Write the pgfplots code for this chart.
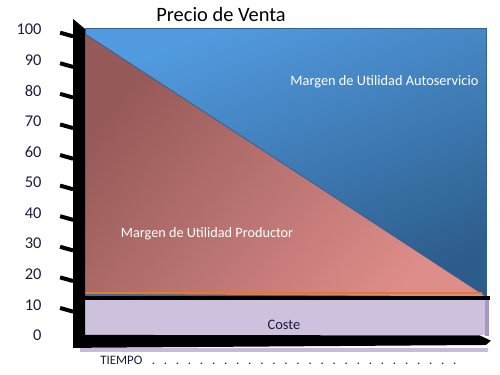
\documentclass[border=0pt]{standalone}
\usepackage{pgfplots}
\pgfplotsset{compat=1.18}
\usepackage{fontspec}
\setmainfont{Carlito}
\definecolor{blueTop}{HTML}{529BE0}
\definecolor{blueBot}{HTML}{2C5C8A}
\definecolor{blueEdge}{HTML}{34628F}
\definecolor{redTop}{HTML}{965A58}
\definecolor{redBot}{HTML}{DE8D8A}
\definecolor{coste}{HTML}{CDC1DD}
\definecolor{costeEdge}{HTML}{A797C4}
\definecolor{costeShadow}{HTML}{C9BADB}
\definecolor{orangeL}{HTML}{E8782A}
\definecolor{ticktext}{HTML}{1C1C3A}
\newcommand\dd{.\hspace{8.8bp}}
\begin{document}
\begin{tikzpicture}
\begin{axis}[
  scale only axis, width=500bp, height=375bp,
  xmin=0, xmax=500, ymin=-13.07, ymax=109.48,
  axis line style={draw=none},
  xtick=\empty, ytick={0,10,...,100},
  major tick length=0pt,
  yticklabel style={anchor=east, xshift=45bp, yshift=-0.5bp, font=\fontsize{16.5}{18}\selectfont, text=ticktext},
  /pgf/number format/assume math mode=true,
  clip=false,
]
% Blue region (Margen de Utilidad Autoservicio)
\addplot[draw=blueEdge, line width=1bp, shading=axis, top color=blueTop, bottom color=blueBot, shading angle=20]
  coordinates {(85,100) (487,100) (487,12) (85,12)} -- cycle;
% Red triangle (Margen de Utilidad Productor)
\addplot[draw=none, shading=axis, top color=redTop, bottom color=redBot, shading angle=50]
  coordinates {(85,98.4) (486,12.6) (85,13.4)} -- cycle;
\addplot[blueEdge, line width=0.8bp] coordinates {(85,98.4) (486,12.6)};
% Orange and black lines
\addplot[orangeL, line width=2bp] coordinates {(85,13.6) (482,13.6)};
\addplot[black, line width=4bp] coordinates {(85,12.1) (490,12.1)};
% Coste
\addplot[fill=coste, draw=none] coordinates {(85,11.4) (485,11.4) (485,0) (85,0)} -- cycle;
\addplot[fill=costeEdge, draw=none] coordinates {(485,11.4) (489,11.4) (489,-0.5) (485,-0.5)} -- cycle;
% Bottom shadow
\addplot[fill=costeShadow, draw=none] coordinates {(80,-4.2) (488,-4.2) (488,-5.6) (80,-5.6)} -- cycle;
% Bottom axis bar
\addplot[fill=black, draw=none] coordinates {(73,0) (480,-0.2) (491,-1.9) (486,-3.3) (73,-4.25)} -- cycle;
% Vertical axis bar
\addplot[fill=black, draw=none] coordinates {(73,103.3) (85,100) (85,0) (73,0)} -- cycle;
% Tick dashes
\addplot[black, line width=4bp, unbounded coords=jump] coordinates {
 (60,98.8) (73,97.6) (66,nan)
 (60,88.8) (73,87.6) (66,nan)
 (60,78.8) (73,77.6) (66,nan)
 (60,68.8) (73,67.6) (66,nan)
 (60,58.8) (73,57.6) (66,nan)
 (60,48.8) (73,47.6) (66,nan)
 (60,38.8) (73,37.6) (66,nan)
 (60,28.8) (73,27.6) (66,nan)
 (60,18.8) (73,17.6) (66,nan)
 (60,8.8) (73,7.6)
};
% Texts
\node[font=\fontsize{20.5}{22}\selectfont] at (axis cs:221,104.6) {Precio de Venta};
\node[white, font=\fontsize{14.4}{16}\selectfont] at (axis cs:384.5,82.7) {Margen de Utilidad Autoservicio};
\node[white, font=\fontsize{14.3}{16}\selectfont] at (axis cs:207,33.0) {Margen de Utilidad Productor};
\node[font=\fontsize{14.5}{16}\selectfont, text=ticktext] at (axis cs:284,3.3) {Coste};
\node[anchor=west, inner sep=0pt, font=\fontsize{13}{14}\selectfont, text=ticktext] at (axis cs:100,-8.3)
  {TIEMPO\hspace{9.3bp}\dd\dd\dd\dd\dd\dd\dd\dd\dd\dd\dd\dd\dd\dd\dd\dd\dd\dd\dd\dd\dd\dd\dd\dd\dd.};
\end{axis}
\end{tikzpicture}
\end{document}
